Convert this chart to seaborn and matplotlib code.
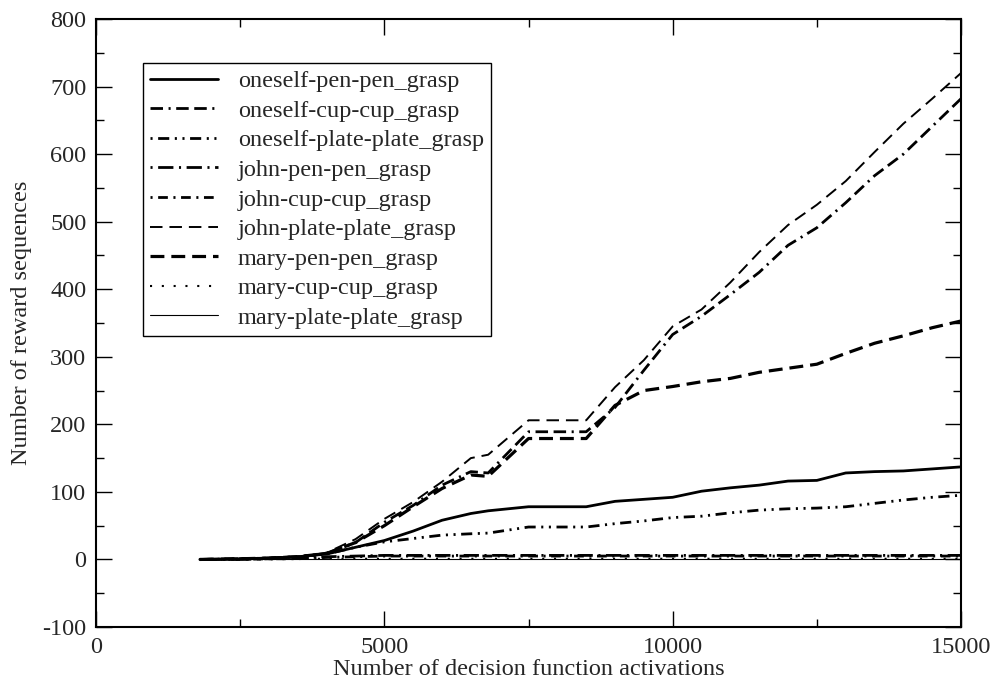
import numpy as np
import pandas as pd
import matplotlib
matplotlib.use("Agg")
import matplotlib.pyplot as plt
from matplotlib.ticker import MultipleLocator
import seaborn as sns

# Activation counts (x) shared by all series
x_act = [1800, 2500, 3000, 3500, 4000, 4500, 5000, 5500, 6000, 6500, 6800,
         7500, 8500, 9000, 9500, 10000, 10500, 11000, 11500, 12000, 12500,
         13000, 13500, 14000, 14500, 15000]

# Number of reward sequences per series
oneself_pen = [0, 1, 2, 4, 8, 18, 28, 42, 58, 68, 72, 78, 78, 86, 89, 92,
               101, 106, 110, 116, 117, 128, 130, 131, 134, 137]
oneself_cup = [0, 1, 2, 4, 9, 25, 55, 80, 110, 130, 128, 189, 189, 225, 280,
               333, 360, 392, 425, 465, 491, 528, 568, 600, 641, 682]
oneself_plate = [0, 1, 2, 4, 8, 18, 26, 31, 36, 38, 39, 48, 48, 53, 57, 62,
                 64, 69, 73, 75, 76, 78, 83, 88, 92, 95]
john_pen = [0, 0, 1, 2, 4, 5, 6, 6, 6, 6, 6, 6, 6, 6, 6, 6, 6, 6, 6, 6, 6,
            6, 6, 6, 6, 6]
john_cup = [0, 0, 1, 1, 3, 4, 5, 5, 5, 5, 5, 5, 5, 5, 5, 5, 5, 5, 5, 5, 5,
            5, 5, 5, 5, 5]
john_plate = [0, 1, 2, 4, 10, 30, 60, 85, 115, 150, 155, 206, 206, 255, 295,
              345, 370, 410, 455, 495, 525, 560, 603, 645, 682, 720]
mary_pen = [0, 1, 2, 4, 9, 25, 50, 78, 105, 125, 123, 179, 179, 228, 250,
            256, 263, 268, 277, 283, 289, 305, 320, 331, 343, 353]
mary_cup = [0, 0, 0, 1, 1, 1, 1, 1, 1, 1, 1, 1, 1, 1, 1, 1, 1, 1, 1, 1, 1,
            1, 1, 1, 1, 1]
mary_plate = [0] * len(x_act)

labels = ["oneself-pen-pen_grasp", "oneself-cup-cup_grasp",
          "oneself-plate-plate_grasp", "john-pen-pen_grasp",
          "john-cup-cup_grasp", "john-plate-plate_grasp",
          "mary-pen-pen_grasp", "mary-cup-cup_grasp", "mary-plate-plate_grasp"]
series = [oneself_pen, oneself_cup, oneself_plate, john_pen, john_cup,
          john_plate, mary_pen, mary_cup, mary_plate]

# line styles (dash lengths in points)
styles = [
    ("-", 2.0),
    ((0, (9, 4, 1.5, 4, 9, 4)), 2.0),
    ((0, (1.5, 4, 8, 4, 1.5, 4)), 2.0),
    ((0, (1.5, 4, 11, 4)), 2.0),
    ((0, (1.5, 4, 7, 4)), 2.0),
    ((0, (9, 5)), 1.4),
    ((0, (10, 5)), 2.3),
    ((0, (1.5, 7)), 1.5),
    ("-", 0.8),
]

sns.set_style("ticks")
plt.rcParams["font.family"] = ["Liberation Serif", "DejaVu Serif"]
plt.rcParams["lines.scale_dashes"] = False
plt.rcParams["axes.unicode_minus"] = False

fig = plt.figure(figsize=(9.93, 6.81), dpi=100)
ax = fig.add_axes([0.0967, 0.0793, 0.8711, 0.8928])

for name, vals, (ls, lw) in zip(labels, series, styles):
    sns.lineplot(x=x_act, y=vals, ax=ax, color="black",
                 linestyle=ls, linewidth=lw, label=name)

ax.set_xlim(0, 15000)
ax.set_ylim(-100, 800)
ax.xaxis.set_major_locator(MultipleLocator(5000))
ax.xaxis.set_minor_locator(MultipleLocator(2500))
ax.yaxis.set_major_locator(MultipleLocator(100))
ax.yaxis.set_minor_locator(MultipleLocator(50))
ax.tick_params(which="both", direction="in", top=True, right=True,
               width=1, color="black", labelsize=17.5, pad=7)
ax.tick_params(which="major", length=11.5)
ax.tick_params(which="minor", length=5.5)
for sp in ax.spines.values():
    sp.set_linewidth(1.5)
    sp.set_color("black")

ax.set_xlabel("Number of decision function activations", fontsize=17.5,
              labelpad=1)
ax.set_ylabel("Number of reward sequences", fontsize=17.5, labelpad=7)

leg = ax.legend(loc="upper left", bbox_to_anchor=(0.0543, 0.9276),
                borderaxespad=0, fontsize=17.5, frameon=True, fancybox=False,
                edgecolor="black", framealpha=1, handlelength=2.8,
                handletextpad=0.8, labelspacing=0.31, borderpad=0.3)
leg.get_frame().set_linewidth(1)

plt.savefig("out.png", dpi=100)
